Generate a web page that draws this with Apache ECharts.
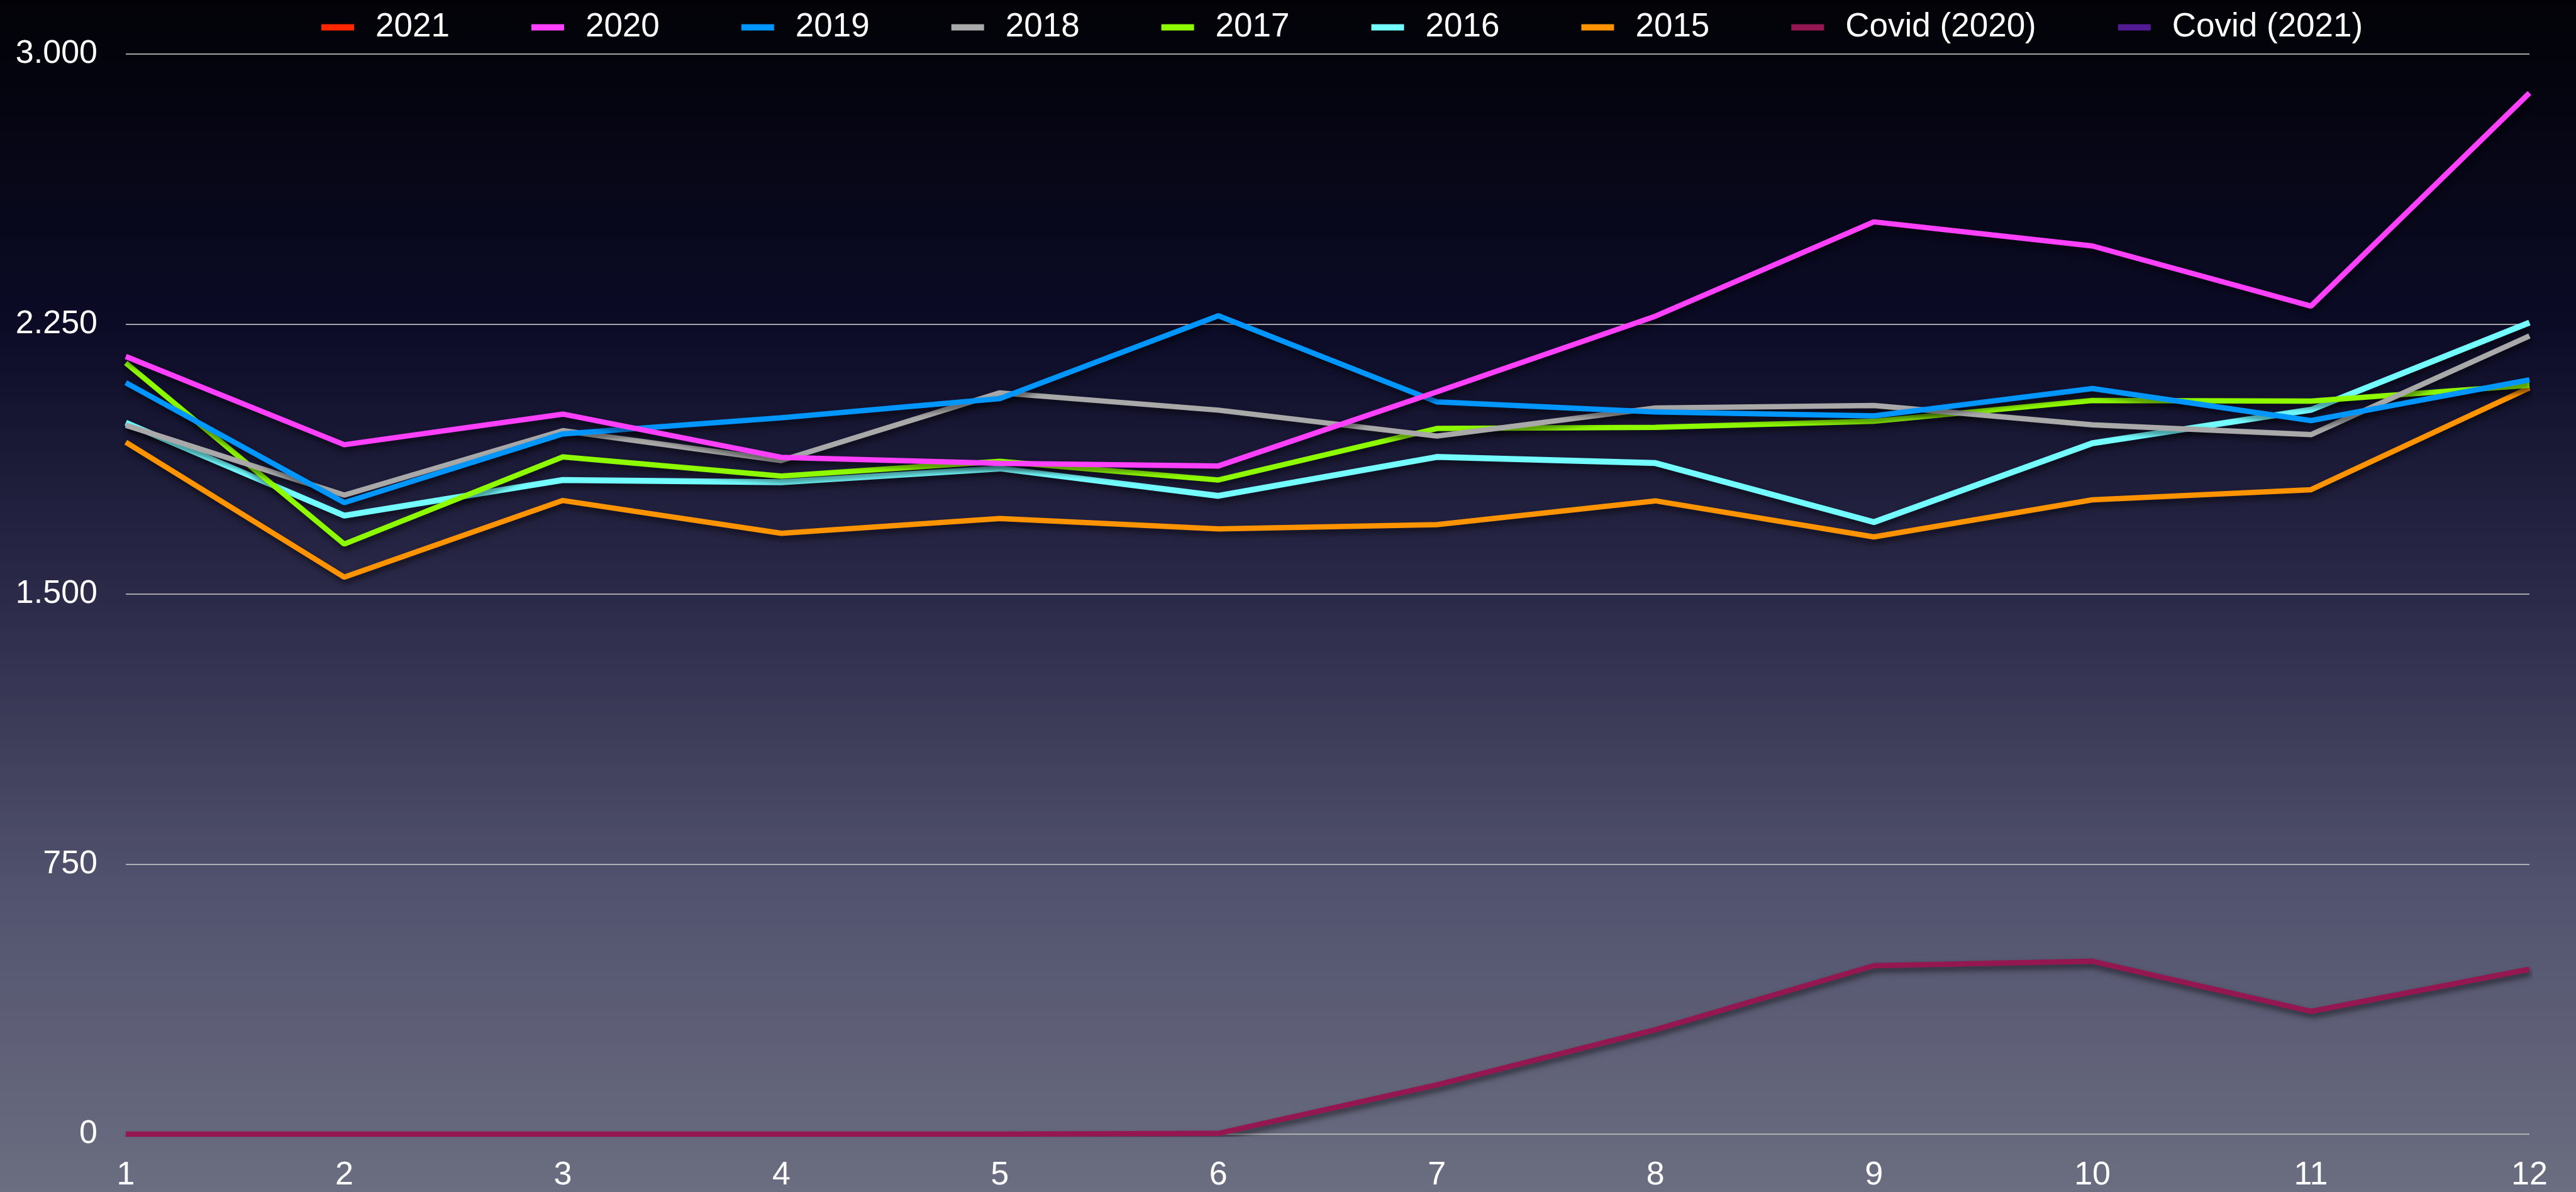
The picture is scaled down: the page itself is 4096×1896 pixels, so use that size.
<!DOCTYPE html>
<html>
<head>
<meta charset="utf-8">
<script src="https://cdn.jsdelivr.net/npm/echarts@6/dist/echarts.min.js"></script>
<style>
  html, body { margin: 0; padding: 0; }
  #main { width: 4096px; height: 1896px; }
</style>
</head>
<body>
<div id="main"></div>
<script>
// 月份
var months = ['1', '2', '3', '4', '5', '6', '7', '8', '9', '10', '11', '12'];
var yTicks = [0, 750, 1500, 2250, 3000];
var yTickLabels = ['0', '750', '1.500', '2.250', '3.000'];

var seriesNames = ['2021', '2020', '2019', '2018', '2017', '2016', '2015', 'Covid (2020)', 'Covid (2021)'];
var seriesColors = ['#ff2600', '#ff40ff', '#0096ff', '#a9a9a9', '#8efa00', '#73fdff', '#ff9300', '#941751', '#531b93'];

var y2021 = [];
var y2020 = [2160, 1915, 2000, 1880, 1863, 1856, 2062, 2272, 2534, 2467, 2300, 2892];
var y2019 = [2087, 1754, 1945, 1990, 2043, 2273, 2034, 2006, 1995, 2071, 1982, 2095];
var y2018 = [1969, 1775, 1954, 1871, 2059, 2011, 1939, 2017, 2024, 1970, 1943, 2217];
var y2017 = [2142, 1639, 1881, 1828, 1869, 1817, 1960, 1963, 1980, 2038, 2036, 2080];
var y2016 = [1976, 1718, 1817, 1811, 1849, 1773, 1881, 1864, 1700, 1919, 2012, 2254];
var y2015 = [1922, 1547, 1760, 1669, 1710, 1681, 1693, 1759, 1659, 1762, 1790, 2073];
var covid2020 = [0, 0, 0, 0, 0, 2, 137, 290, 468, 480, 341, 458];
var covid2021 = [];

var allData = [y2021, y2020, y2019, y2018, y2017, y2016, y2015, covid2020, covid2021];

(function () {
  var myChart = echarts.init(document.getElementById('main'));
  var font = '"Liberation Sans", Arial, sans-serif';

  // 前面的系列画在上面，所以倒序加入
  var series = [];
  for (var i = allData.length - 1; i >= 0; i--) {
    series.push({
      name: seriesNames[i],
      type: 'line',
      data: allData[i],
      color: seriesColors[i],
      symbol: 'none',
      lineStyle: {
        width: i === 5 ? 9.5 : 8.5,
        color: seriesColors[i],
        shadowColor: 'rgba(0,0,0,0.55)',
        shadowBlur: 10,
        shadowOffsetX: 2,
        shadowOffsetY: 6
      }
    });
  }

  var option = {
    animation: false,
    backgroundColor: {
      type: 'linear', x: 0, y: 0, x2: 0, y2: 1,
      colorStops: [
        { offset: 0, color: '#020207' },
        { offset: 0.27, color: '#0b0b26' },
        { offset: 0.5, color: '#2b2a49' },
        { offset: 0.75, color: '#52536e' },
        { offset: 1, color: '#6b6d80' }
      ]
    },
    legend: {
      data: seriesNames,
      left: 506,
      top: 12,
      icon: 'rect',
      itemWidth: 52,
      itemHeight: 10,
      itemGap: 130,
      itemStyle: { borderWidth: 0 },
      textStyle: {
        color: '#ffffff',
        fontSize: 53,
        fontFamily: font,
        padding: [0, 0, 0, 29]
      }
    },
    grid: {
      left: 200,
      right: 74,
      top: 86,
      bottom: 88,
      containLabel: false
    },
    xAxis: {
      type: 'category',
      boundaryGap: false,
      data: months,
      axisLine: { show: false },
      axisTick: { show: false },
      axisLabel: {
        color: '#ffffff',
        fontSize: 52,
        fontFamily: font,
        margin: 40
      }
    },
    yAxis: {
      type: 'value',
      min: 0,
      max: 3000,
      interval: 750,
      axisLine: { show: false },
      axisTick: { show: false },
      axisLabel: {
        color: '#ffffff',
        fontSize: 52,
        fontFamily: font,
        margin: 45,
        formatter: function (v) {
          var idx = yTicks.indexOf(v);
          return idx >= 0 ? yTickLabels[idx] : '';
        }
      },
      splitLine: {
        lineStyle: {
          color: 'rgba(190,190,190,0.85)',
          width: 2
        }
      }
    },
    series: series
  };
  myChart.setOption(option);
})();
</script>
</body>
</html>
